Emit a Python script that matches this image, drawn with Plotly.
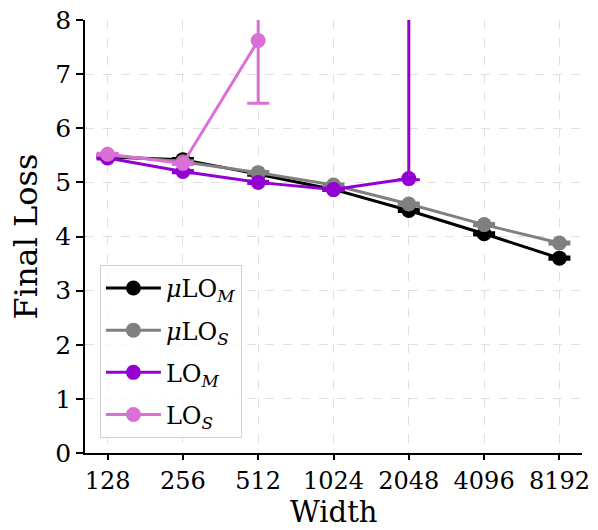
import plotly.graph_objects as go
import math

widths = [128, 256, 512, 1024, 2048, 4096, 8192]
tick_labels = ["128", "256", "512", "1024", "2048", "4096", "8192"]

mu_lo_m = [5.47, 5.42, 5.15, 4.87, 4.48, 4.05, 3.60]
mu_lo_m_err = [0.02, 0.02, 0.02, 0.02, 0.02, 0.02, 0.02]

mu_lo_s = [5.50, 5.38, 5.18, 4.95, 4.60, 4.22, 3.88]
mu_lo_s_err = [0.02, 0.02, 0.02, 0.02, 0.02, 0.02, 0.02]

lo_m = [5.45, 5.20, 5.00, 4.87, 5.07, None, None]
lo_m_err_plus = [0.02, 0.02, 0.02, 0.02, 10.0, 0, 0]
lo_m_err_minus = [0.02, 0.02, 0.02, 0.02, 0.02, 0, 0]

lo_s = [5.52, 5.35, 7.62, None, None, None, None]
lo_s_err_plus = [0.02, 0.02, 5.0, 0, 0, 0, 0]
lo_s_err_minus = [0.02, 0.02, 1.16, 0, 0, 0, 0]

series = [
    ("<i>μ</i>LO<sub><i>M</i></sub>", mu_lo_m, mu_lo_m_err, mu_lo_m_err, "black"),
    ("<i>μ</i>LO<sub><i>S</i></sub>", mu_lo_s, mu_lo_s_err, mu_lo_s_err, "#808080"),
    ("LO<sub><i>M</i></sub>", lo_m, lo_m_err_plus, lo_m_err_minus, "#9400D3"),
    ("LO<sub><i>S</i></sub>", lo_s, lo_s_err_plus, lo_s_err_minus, "#DA70D6"),
]

fig = go.Figure()
for i, (name, vals, ep, em, color) in enumerate(series):
    fig.add_trace(go.Scatter(
        x=widths, y=vals, name=name, mode="lines+markers",
        legendgroup=f"g{i}",
        line=dict(color=color, width=3),
        marker=dict(color=color, size=15),
        error_y=dict(type="data", symmetric=False, array=ep, arrayminus=em,
                     color=color, thickness=3, width=11),
        connectgaps=False,
    ))

font_family = "DejaVu Serif"
fig.update_layout(
    width=598, height=530,
    margin=dict(l=85, r=16, t=20, b=77, autoexpand=False),
    paper_bgcolor="white", plot_bgcolor="white",
    font=dict(family=font_family, color="black", size=24),
    showlegend=True,
    legend=dict(
        x=0.03, y=0.035, xanchor="left", yanchor="bottom",
        bgcolor="rgba(255,255,255,0.8)", bordercolor="#d0d0d0", borderwidth=1,
        font=dict(family=font_family, size=24, color="black"),
        itemwidth=55, tracegroupgap=8,
    ),
    xaxis=dict(
        type="log", automargin=False,
        range=[6.7 * math.log10(2), 13.3 * math.log10(2)],
        tickvals=widths, ticktext=tick_labels,
        tickfont=dict(size=24),
        showline=True, linecolor="black", linewidth=1.5,
        ticks="outside", ticklen=5, tickwidth=1.5, tickcolor="black",
        showgrid=True, gridcolor="#e0e0e0", griddash="dash", gridwidth=1,
        zeroline=False, mirror=False,
    ),
    yaxis=dict(
        range=[0, 8], automargin=False,
        tickvals=[0, 1, 2, 3, 4, 5, 6, 7, 8],
        tickfont=dict(size=25),
        title=dict(text="Final Loss", font=dict(size=32), standoff=8),
        showline=True, linecolor="black", linewidth=1.5,
        ticks="outside", ticklen=7, tickwidth=1.5, tickcolor="black",
        showgrid=True, gridcolor="#e0e0e0", griddash="dash", gridwidth=1,
        zeroline=False, mirror=False,
    ),
    annotations=[dict(
        text="Width", xref="paper", yref="paper", x=0.5, y=-(530 - 453) / 433,
        xanchor="center", yanchor="bottom", showarrow=False, borderpad=0,
        font=dict(family=font_family, size=29, color="black"),
    )],
)

fig.write_html("out.html")
